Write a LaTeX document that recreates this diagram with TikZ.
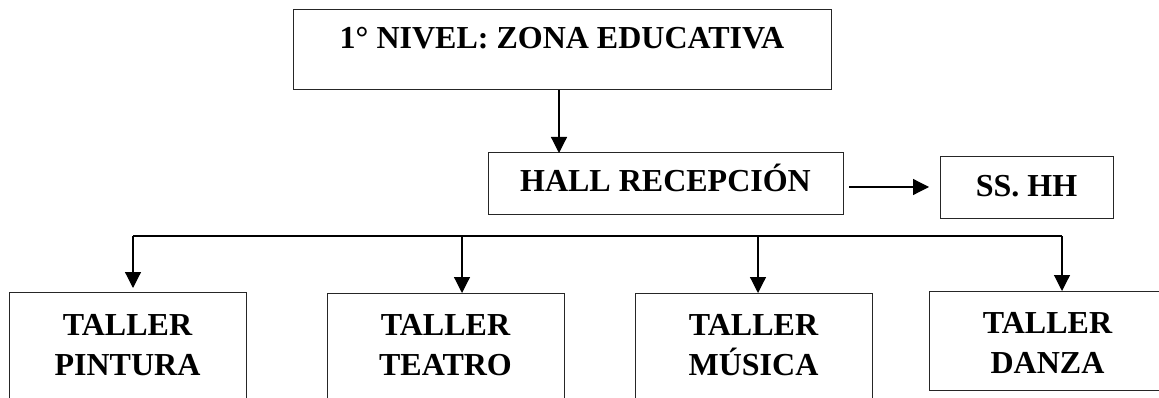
\documentclass[tikz,border=0pt]{standalone}
\usepackage{fontspec}
\setmainfont{Liberation Serif}
\usetikzlibrary{arrows.meta}
\begin{document}
\begin{tikzpicture}[x=1pt,y=-1pt,
  box/.style={draw=black!85, line width=1pt, inner sep=0pt, outer sep=0pt,
    font=\fontsize{32}{40}\selectfont\bfseries, anchor=north west},
  wbox/.style={box, align=center, minimum width=237pt},
  arr/.style={line width=1.2pt, -{Triangle[length=16pt,width=16pt]}},
  ln/.style={line width=1.2pt}]
\useasboundingbox (0,0) rectangle (1159,398);
\clip (0,0) rectangle (1159,398);
\fill[white] (0,0) rectangle (1159,398);

\node[box, minimum width=538pt, text height=39pt, text depth=41pt] (top) at (293,10) {1° NIVEL: ZONA EDUCATIVA};
\node[box, minimum width=355pt, text height=39pt, text depth=23pt] (hall) at (488,153) {HALL RECEPCIÓN};
\node[box, minimum width=173pt, text height=40pt, text depth=22pt] (ss) at (940,157) {SS. HH};

\node[wbox, text height=83pt, text depth=35pt] (pint) at (9,292) {TALLER\\PINTURA};
\node[wbox, text height=82pt, text depth=35pt] (teat) at (327,293) {TALLER\\TEATRO};
\node[wbox, text height=82pt, text depth=35pt] (musi) at (635,293) {TALLER\\MÚSICA};
\node[wbox, text height=82pt, text depth=17pt] (danz) at (929,291) {TALLER\\DANZA};

\coordinate (a1) at (559,0);
\draw[arr] (top.south -| a1) -- (hall.north -| a1);
\coordinate (a2) at (0,187);
\draw[arr, shorten <=6pt, shorten >=11pt] (hall.east |- a2) -- (ss.west |- a2);

\coordinate (b1) at (133,236);
\coordinate (b2) at (462,236);
\coordinate (b3) at (758,236);
\coordinate (b4) at (1062,236);
\draw[ln] (b1) -- (b4);
\draw[arr, shorten >=4pt] (b1) -- (pint.north -| b1);
\draw[arr] (b2) -- (teat.north -| b2);
\draw[arr] (b3) -- (musi.north -| b3);
\draw[arr] (b4) -- (danz.north -| b4);
\end{tikzpicture}
\end{document}
